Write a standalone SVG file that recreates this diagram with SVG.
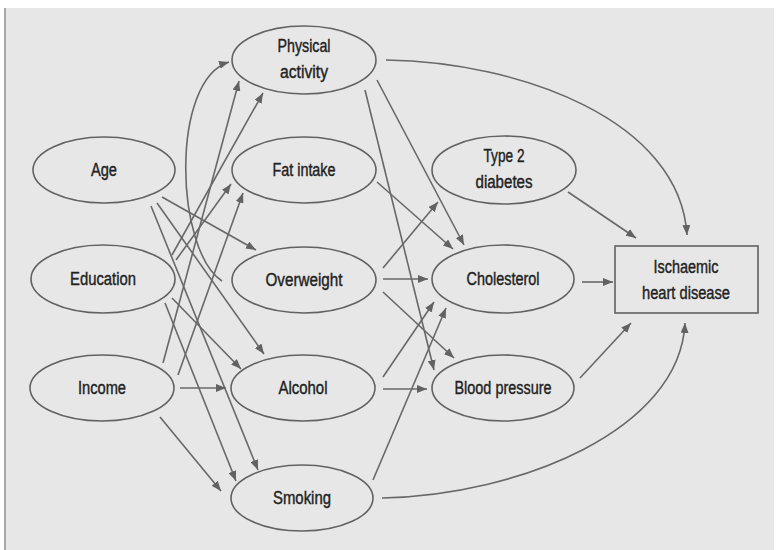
<svg xmlns="http://www.w3.org/2000/svg" width="778" height="550" viewBox="0 0 778 550">
<defs>
<marker id="ah" markerUnits="userSpaceOnUse" markerWidth="10" markerHeight="8" refX="10" refY="4" orient="auto">
<path d="M0,0 L10,4 L0,8 z" fill="#626262"/>
</marker>
<style>
.n ellipse, .n rect { fill: #e7e7e7; stroke: #626262; stroke-width: 1.6; }
.n text { font-family: "Liberation Sans Narrow", "Liberation Sans", Arial, sans-serif; font-size: 18px; fill: #222222; stroke: #222222; stroke-width: 0.4; text-anchor: middle; }
#edges line, #edges path { stroke: #686868; stroke-width: 1.6; fill: none; marker-end: url(#ah); }
</style>
</defs>
<rect x="0" y="0" width="778" height="550" fill="#ffffff"/>
<rect x="6" y="8" width="768" height="542" fill="#e7e7e7"/>
<line x1="5" y1="8" x2="5" y2="550" stroke="#a8a8a8" stroke-width="2"/>

<g id="edges">
<line x1="162" y1="197" x2="256" y2="250"/>
<line x1="157" y1="203" x2="264" y2="354"/>
<line x1="151" y1="206" x2="258" y2="470"/>
<line x1="172" y1="255" x2="263" y2="93"/>
<line x1="176" y1="260" x2="231" y2="184"/>
<line x1="172" y1="298" x2="241" y2="369"/>
<line x1="165" y1="303" x2="236" y2="481"/>
<line x1="163" y1="363" x2="239" y2="81"/>
<line x1="178" y1="375" x2="243" y2="193"/>
<line x1="180" y1="388" x2="226" y2="388"/>
<line x1="160" y1="417" x2="221" y2="491"/>
<path d="M222,281 C175,250 170,80 229,62"/>
<line x1="377" y1="80" x2="464" y2="245"/>
<line x1="365" y1="90" x2="434" y2="370"/>
<line x1="377" y1="182" x2="453" y2="249"/>
<line x1="383" y1="268" x2="438" y2="202"/>
<line x1="383" y1="279" x2="428" y2="279"/>
<line x1="383" y1="292" x2="454" y2="358"/>
<line x1="383" y1="377" x2="434" y2="302"/>
<line x1="383" y1="389" x2="427" y2="389"/>
<line x1="373" y1="480" x2="446" y2="308"/>
<path d="M386,60 C520,62 680,120 687,235"/>
<line x1="568" y1="192" x2="636" y2="238"/>
<line x1="582" y1="282" x2="613" y2="282"/>
<line x1="580" y1="378" x2="631" y2="323"/>
<path d="M382,498 C520,495 680,430 685,323"/>
</g>

<g id="age" class="n"><ellipse cx="104" cy="170" rx="71" ry="33"/><text x="104" y="176" textLength="26" lengthAdjust="spacingAndGlyphs">Age</text></g>
<g id="education" class="n"><ellipse cx="103" cy="279" rx="72" ry="34"/><text x="103" y="285" textLength="66" lengthAdjust="spacingAndGlyphs">Education</text></g>
<g id="income" class="n"><ellipse cx="102" cy="388" rx="72" ry="33"/><text x="102" y="394" textLength="48" lengthAdjust="spacingAndGlyphs">Income</text></g>

<g id="physical-activity" class="n"><ellipse cx="304" cy="60" rx="72" ry="34"/><text x="304" y="52" textLength="53" lengthAdjust="spacingAndGlyphs">Physical</text><text x="304" y="78" textLength="48" lengthAdjust="spacingAndGlyphs">activity</text></g>
<g id="fat-intake" class="n"><ellipse cx="304" cy="170" rx="72" ry="33"/><text x="304" y="176" textLength="63" lengthAdjust="spacingAndGlyphs">Fat intake</text></g>
<g id="overweight" class="n"><ellipse cx="304" cy="280" rx="72" ry="33"/><text x="304" y="286" textLength="77" lengthAdjust="spacingAndGlyphs">Overweight</text></g>
<g id="alcohol" class="n"><ellipse cx="303" cy="388" rx="72" ry="33"/><text x="303" y="394" textLength="49" lengthAdjust="spacingAndGlyphs">Alcohol</text></g>
<g id="smoking" class="n"><ellipse cx="302" cy="498" rx="71" ry="33"/><text x="302" y="504" textLength="58" lengthAdjust="spacingAndGlyphs">Smoking</text></g>

<g id="type2-diabetes" class="n"><ellipse cx="504" cy="170" rx="72" ry="34"/><text x="504" y="162" textLength="41" lengthAdjust="spacingAndGlyphs">Type 2</text><text x="504" y="188" textLength="57" lengthAdjust="spacingAndGlyphs">diabetes</text></g>
<g id="cholesterol" class="n"><ellipse cx="503" cy="279" rx="71" ry="34"/><text x="503" y="285" textLength="73" lengthAdjust="spacingAndGlyphs">Cholesterol</text></g>
<g id="blood-pressure" class="n"><ellipse cx="503" cy="388" rx="71" ry="33"/><text x="503" y="394" textLength="97" lengthAdjust="spacingAndGlyphs">Blood pressure</text></g>

<g id="ihd" class="n"><rect x="615" y="246" width="143" height="67"/><text x="686" y="273" textLength="65" lengthAdjust="spacingAndGlyphs">Ischaemic</text><text x="686" y="299" textLength="88" lengthAdjust="spacingAndGlyphs">heart disease</text></g>
</svg>
